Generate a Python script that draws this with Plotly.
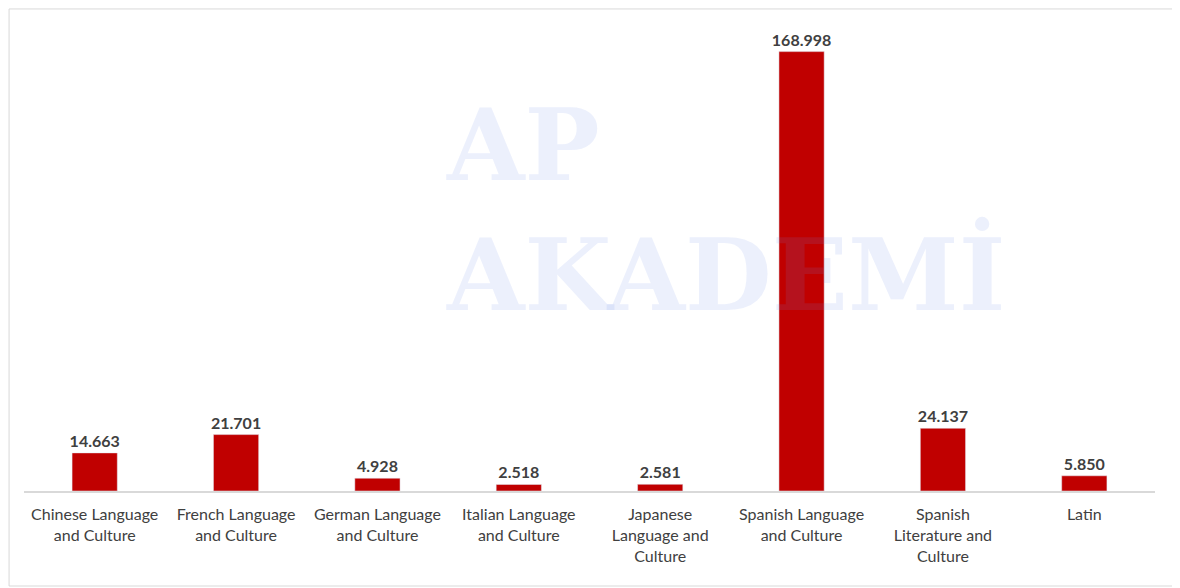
import plotly.graph_objects as go

categories = ["Chinese Language<br>and Culture", "French Language<br>and Culture", "German Language<br>and Culture",
              "Italian Language<br>and Culture", "Japanese<br>Language and<br>Culture", "Spanish Language<br>and Culture",
              "Spanish<br>Literature and<br>Culture", "Latin"]
values = [14.663, 21.701, 4.928, 2.518, 2.581, 168.998, 24.137, 5.850]
labels = ["14.663", "21.701", "4.928", "2.518", "2.581", "168.998", "24.137", "5.850"]

fig = go.Figure(go.Bar(
    x=categories, y=values, text=labels, textposition="outside", constraintext="none",
    marker_color="#C00000", width=0.32, cliponaxis=False,
    textfont=dict(family="Lato", size=16, color="#404040", weight="bold"),
))
fig.add_annotation(x=0.62, y=0.60, xref="paper", yref="paper", text="<b>AP<br>AKADEMİ</b>",
                   showarrow=False, align="left",
                   font=dict(family="DejaVu Serif", size=100, color="rgba(110,140,230,0.13)"))
fig.update_layout(
    width=1172, height=580, plot_bgcolor="white", paper_bgcolor="white",
    margin=dict(l=16, r=25, t=15, b=97, autoexpand=False), showlegend=False,
    font=dict(family="Lato", size=16, color="#404040"),
    xaxis=dict(showline=True, linecolor="#d9d9d9", linewidth=1.5, ticks="", tickfont=dict(size=16),
               automargin=False, ticklabelstandoff=8),
    yaxis=dict(visible=False, range=[0, 180], automargin=False),
    shapes=[dict(type="rect", xref="paper", yref="paper", x0=-0.0132, x1=1.0205, y0=-0.203, y1=1.03,
                 line=dict(color="#d9d9d9", width=1))],
)
fig.write_html("out.html")
